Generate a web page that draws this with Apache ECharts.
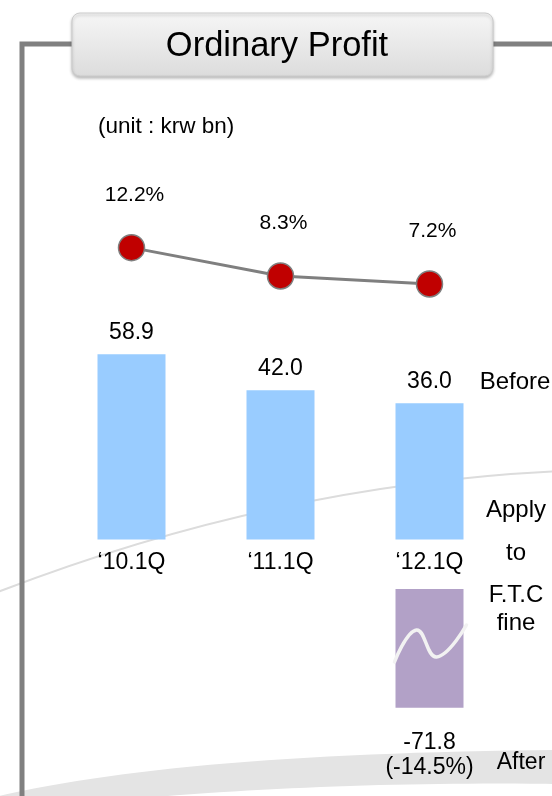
<!DOCTYPE html>
<html>
<head>
<meta charset="utf-8">
<script src="https://cdn.jsdelivr.net/npm/echarts@6/dist/echarts.min.js"></script>
<style>
  html, body { margin: 0; padding: 0; background: #ffffff; }
  #chart { width: 552px; height: 796px; }
</style>
</head>
<body>
<div id="chart"></div>
<script>
// Quarterly ordinary profit (krw bn) and ordinary profit margin (%)
const categories = ['\u201810.1Q', '\u201811.1Q', '\u201812.1Q'];
const profitBefore = [58.9, 42.0, 36.0];
const marginBefore = [12.2, 8.3, 7.2];
const profitAfter = [null, null, -71.8];
const marginAfter = [null, null, -14.5];

const FONT = "'Liberation Sans', Arial, Helvetica, sans-serif";

const chart = echarts.init(document.getElementById('chart'), null, { renderer: 'canvas' });

const gridLeft = 57;
const gridWidth = 447;
const BAR_W = 68;
const profitAxisMin = -28;   // bars rise from the floor of the profit axis

function catAxis(gridIndex, showLabels) {
  return {
    type: 'category',
    gridIndex: gridIndex,
    data: categories,
    axisLine: { show: false, onZero: false },
    axisTick: { show: false },
    splitLine: { show: false },
    axisLabel: {
      show: showLabels,
      margin: 12,
      fontSize: 23,
      fontFamily: FONT,
      color: '#000000'
    }
  };
}

// sample a quadratic bezier into points
function quad(p0, c, p1, n) {
  const pts = [];
  for (let i = 0; i <= n; i++) {
    const t = i / n, u = 1 - t;
    pts.push([u * u * p0[0] + 2 * u * t * c[0] + t * t * p1[0],
              u * u * p0[1] + 2 * u * t * c[1] + t * t * p1[1]]);
  }
  return pts;
}
const swooshPts = quad([-5, 797], [180, 753], [560, 750], 30)
  .concat(quad([560, 784], [330, 781], [120, 800], 30));

// blue profit bars drawn from the axis floor up to each value
function renderProfitBar(params, api) {
  const i = api.value(0);
  const v = api.value(1);
  const top = api.coord([i, v]);
  const base = api.coord([i, profitAxisMin]);
  return {
    type: 'rect',
    shape: { x: top[0] - BAR_W / 2, y: top[1], width: BAR_W, height: base[1] - top[1] },
    style: { fill: '#99ccff' },
    textContent: {
      style: {
        text: v.toFixed(1),
        font: '23px ' + FONT,
        fill: '#000000'
      }
    },
    textConfig: { position: 'top', distance: 10 }
  };
}

const option = {
  animation: false,
  backgroundColor: '#ffffff',
  textStyle: { fontFamily: FONT },
  grid: [
    { left: gridLeft, width: gridWidth, top: 191, height: 145.2 },
    { left: gridLeft, width: gridWidth, top: 352, height: 187.5 },
    { left: gridLeft, width: gridWidth, top: 589, height: 165.3 }
  ],
  xAxis: [catAxis(0, false), catAxis(1, true), catAxis(2, false)],
  yAxis: [
    { type: 'value', gridIndex: 0, min: 0, max: 20, show: false },
    { type: 'value', gridIndex: 1, min: profitAxisMin, max: 60, show: false },
    { type: 'value', gridIndex: 2, min: -100, max: 0, show: false }
  ],
  series: [
    {
      name: 'Margin',
      type: 'line',
      xAxisIndex: 0,
      yAxisIndex: 0,
      data: marginBefore,
      symbol: 'circle',
      symbolSize: 26,
      z: 5,
      lineStyle: { color: '#7f7f7f', width: 3 },
      itemStyle: { color: '#c00000', borderColor: '#7f7f7f', borderWidth: 1.5 },
      label: {
        show: true,
        position: 'top',
        distance: 28,
        offset: [3, 0],
        fontSize: 21,
        fontFamily: FONT,
        color: '#000000',
        formatter: (p) => p.value.toFixed(1) + '%'
      }
    },
    {
      name: 'Before',
      type: 'custom',
      xAxisIndex: 1,
      yAxisIndex: 1,
      data: profitBefore.map((v, i) => [i, v]),
      encode: { x: 0, y: 1 },
      renderItem: renderProfitBar
    },
    {
      name: 'After',
      type: 'bar',
      xAxisIndex: 2,
      yAxisIndex: 2,
      data: profitAfter,
      barWidth: BAR_W,
      itemStyle: { color: '#b2a1c7' },
      label: {
        show: true,
        position: 'bottom',
        distance: 22,
        fontSize: 23,
        lineHeight: 25,
        fontFamily: FONT,
        color: '#000000',
        formatter: (p) => p.value.toFixed(1) + '\n(' + marginAfter[p.dataIndex].toFixed(1) + '%)'
      }
    }
  ],
  graphic: [
    // soft background arc
    {
      type: 'bezierCurve', id: 'arc', z: -10, silent: true,
      shape: { x1: -5, y1: 593, cpx1: 276, cpy1: 484, x2: 560, y2: 471 },
      style: { stroke: '#dcdcdc', lineWidth: 2, fill: null }
    },
    // grey swoosh along the bottom
    {
      type: 'polygon', id: 'swoosh', z: -10, silent: true,
      shape: { points: swooshPts },
      style: { fill: '#e4e4e4' }
    },
    // frame lines
    {
      type: 'polyline', id: 'frameL', z: 1, silent: true,
      shape: { points: [[22, 800], [22, 44], [74, 44]] },
      style: { stroke: '#808080', lineWidth: 5, fill: null }
    },
    {
      type: 'line', id: 'frameR', z: 1, silent: true,
      shape: { x1: 490, y1: 44, x2: 560, y2: 44 },
      style: { stroke: '#808080', lineWidth: 5 }
    },
    // title plate
    {
      type: 'rect', id: 'titleBox', z: 20, silent: true,
      shape: { x: 72, y: 13, width: 421, height: 63, r: 8 },
      style: {
        fill: {
          type: 'linear', x: 0, y: 0, x2: 0, y2: 1,
          colorStops: [
            { offset: 0, color: '#f6f6f6' },
            { offset: 1, color: '#dcdcdc' }
          ]
        },
        stroke: '#cccccc',
        lineWidth: 1,
        shadowBlur: 3,
        shadowOffsetY: 2,
        shadowColor: 'rgba(0,0,0,0.25)'
      }
    },
    {
      type: 'text', id: 'titleText', z: 21, silent: true,
      style: {
        text: 'Ordinary Profit', x: 277, y: 46,
        textAlign: 'center', textVerticalAlign: 'middle',
        font: '34.5px ' + FONT, fill: '#000000'
      }
    },
    {
      type: 'text', id: 'unit', z: 21, silent: true,
      style: {
        text: '(unit : krw bn)', x: 98, y: 127,
        textAlign: 'left', textVerticalAlign: 'middle',
        font: '22.5px ' + FONT, fill: '#000000'
      }
    },
    {
      type: 'text', id: 'before', z: 21, silent: true,
      style: {
        text: 'Before', x: 515, y: 382,
        textAlign: 'center', textVerticalAlign: 'middle',
        font: '24px ' + FONT, fill: '#000000'
      }
    },
    {
      type: 'text', id: 'apply', z: 21, silent: true,
      style: {
        text: 'Apply', x: 516, y: 510,
        textAlign: 'center', textVerticalAlign: 'middle',
        font: '24px ' + FONT, fill: '#000000'
      }
    },
    {
      type: 'text', id: 'to', z: 21, silent: true,
      style: {
        text: 'to', x: 516, y: 553,
        textAlign: 'center', textVerticalAlign: 'middle',
        font: '24px ' + FONT, fill: '#000000'
      }
    },
    {
      type: 'text', id: 'ftc', z: 21, silent: true,
      style: {
        text: 'F.T.C\nfine', x: 516, y: 609, lineHeight: 28,
        textAlign: 'center', textVerticalAlign: 'middle',
        font: '24px ' + FONT, fill: '#000000'
      }
    },
    {
      type: 'text', id: 'after', z: 21, silent: true,
      style: {
        text: 'After', x: 521, y: 763,
        textAlign: 'center', textVerticalAlign: 'middle',
        font: '23px ' + FONT, fill: '#000000'
      }
    }
  ]
};

chart.setOption(option);

// White wave drawn across the fine bar, placed from the bar's own pixel extent
const idx = profitAfter.findIndex((v) => v !== null);
const topPt = chart.convertToPixel({ seriesIndex: 2 }, [idx, 0]);
const botPt = chart.convertToPixel({ seriesIndex: 2 }, [idx, profitAfter[idx]]);
const left = topPt[0] - BAR_W / 2;
const h = botPt[1] - topPt[1];
chart.setOption({
  graphic: [{
    type: 'polyline', id: 'wave', z: 30, silent: true,
    shape: {
      smooth: 0.45,
      points: [
        [left - 1, topPt[1] + 0.615 * h],
        [left + 21, topPt[1] + 0.345 * h],
        [left + 41, topPt[1] + 0.573 * h],
        [left + 71, topPt[1] + 0.303 * h]
      ]
    },
    style: { stroke: '#f2f2f2', lineWidth: 3.5, fill: null, lineCap: 'round' }
  }]
});
</script>
</body>
</html>
